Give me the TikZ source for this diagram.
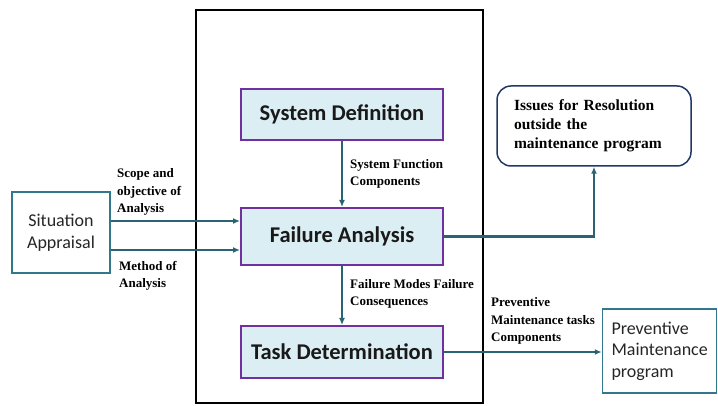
\documentclass[tikz,border=0pt]{standalone}
\usepackage{fontspec}
\setmainfont{Liberation Serif}
\newfontfamily\boxfont{Carlito}
\usetikzlibrary{arrows.meta,positioning}
\definecolor{arrowteal}{RGB}{40,100,115}
\definecolor{boxfill}{RGB}{219,238,244}
\definecolor{boxline}{RGB}{112,48,160}
\definecolor{sideline}{RGB}{49,120,140}
\definecolor{issueline}{RGB}{31,56,100}
\tikzset{
  stage/.style={draw=boxline, line width=2pt, fill=boxfill, minimum width=202pt, inner sep=0pt,
    text=black!90, font=\boxfont\bfseries\fontsize{22.5}{26}\selectfont},
  side/.style={draw=sideline, line width=1.5pt, text=black!85, font=\boxfont\fontsize{18}{21.5}\selectfont},
  flow/.style={draw=arrowteal, line width=2.3pt, -{Latex[length=7pt,width=6pt]}},
  note/.style={align=left, inner sep=0pt, font=\bfseries\fontsize{13}{17.5}\selectfont}
}

\begin{document}
\begin{tikzpicture}[x=1pt, y=1pt, node distance=122pt, on grid]
   \useasboundingbox (0,0) rectangle (718,406);
   \draw[line width=2pt] (196,3) rectangle (483,396);
   \node[stage, minimum height=51pt] (sys_def) at (342,291.5) {System Definition};
   \node[stage, minimum height=57pt] (fail_an) [below=of sys_def] {Failure Analysis};
   \node[stage, minimum height=52pt] (task_det) [below=115.5pt of fail_an] {Task Determination};
   \node[side, align=center, minimum width=98pt, minimum height=81pt] (sit_app) at (61,173.5) {Situation\\Appraisal};
   \node[side, align=left, minimum width=114pt, minimum height=84pt, text width=96pt] (prev_mp) at (659.5,55) {Preventive\\Maintenance\\program};
   \node[draw=issueline, line width=1.5pt, rounded corners=14pt, minimum width=194pt, minimum height=80pt,
     text width=160pt, align=left, font=\bfseries\fontsize{15.5}{19}\selectfont] (issues) at (594,280)
     {Issues for Resolution\\outside the\\maintenance program};
   \node[note, anchor=west] (scope_lbl) at (117,214) {Scope and\\objective of\\Analysis};
   \node[note, anchor=west] (method_lbl) at (119,130) {Method of\\Analysis};
   \node[note, anchor=west] (func_lbl) at (350,232) {System Function\\Components};
   \node[note, anchor=west] (mode_lbl) at (350,112) {Failure Modes Failure\\Consequences};
   \node[note, anchor=west] (task_lbl) at (491,85) {Preventive\\Maintenance tasks\\Components};
   \draw[flow] ([yshift=11.5pt]sit_app.east) -- ([yshift=11.5pt]sit_app.east -| fail_an.west);
   \draw[flow] ([yshift=-17.5pt]sit_app.east) -- ([yshift=-17.5pt]sit_app.east -| fail_an.west);
   \draw[flow] (sys_def) -- (fail_an);
   \draw[flow] (fail_an) -- (task_det);
   \draw[flow] (fail_an.east) -| (issues.south);
   \draw[flow] (task_det.east) -- (task_det.east -| prev_mp.west);
\end{tikzpicture}
\end{document}
